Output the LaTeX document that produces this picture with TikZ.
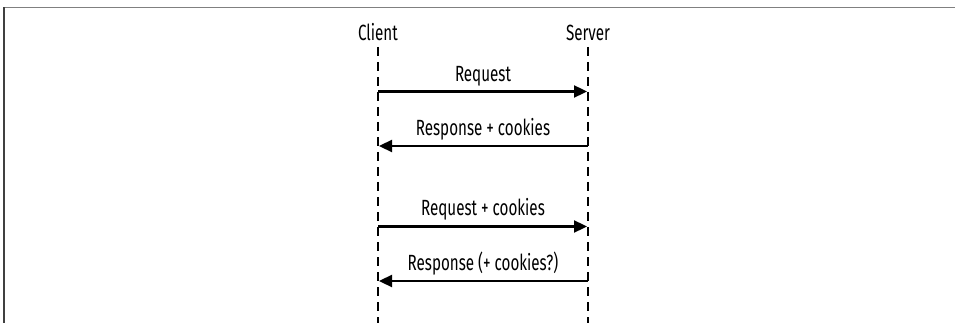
\documentclass[tikz,border=0pt]{standalone}
\usepackage{fontspec}
\setmainfont[FakeStretch=0.69]{Fira Sans}
\usetikzlibrary{arrows.meta}
\begin{document}
\begin{tikzpicture}[x=1pt,y=1pt,
  lbl/.style={font=\fontsize{22}{26}\selectfont, anchor=base, inner sep=0pt},
  life/.style={line width=2.5pt, dash pattern=on 9pt off 6pt},
  msg/.style={line width=2.3pt, -{Triangle[length=13pt,width=12pt]}, shorten >=1pt}]
\useasboundingbox (0,0) rectangle (955,-323);
\draw[line width=1.5pt, color=black!50] (4,-7.5) -- (955,-7.5);
\draw[line width=1.5pt, color=black!75] (4,-7.5) -- (4,-323);
% headers
\node[lbl] (client) at (378,-41) {Client};
\node[lbl] (server) at (588,-41) {Server};
\coordinate (ct) at (378,-47);
\coordinate (cb) at (378,-323);
\coordinate (st) at (588,-47);
\coordinate (sb) at (588,-323);
\draw[life] (ct) -- (cb);
\draw[life] (st) -- (sb);
% message endpoints
\coordinate (c1) at (378,-91.5);  \coordinate (s1) at (588,-91.5);
\coordinate (c2) at (378,-146);   \coordinate (s2) at (588,-146);
\coordinate (c3) at (378,-226.5); \coordinate (s3) at (588,-226.5);
\coordinate (c4) at (378,-281);   \coordinate (s4) at (588,-281);
\draw[msg] (c1) -- node[lbl, pos=0.5, yshift=9.5pt] (m1) {Request} (s1);
\draw[msg] (s2) -- node[lbl, pos=0.5, yshift=10.5pt] (m2) {Response + cookies} (c2);
\draw[msg] (c3) -- node[lbl, pos=0.5, yshift=11pt] (m3) {Request + cookies} (s3);
\draw[msg] (s4) -- node[lbl, pos=0.5, yshift=11pt] (m4) {Response (+ cookies?)} (c4);
\end{tikzpicture}
\end{document}
